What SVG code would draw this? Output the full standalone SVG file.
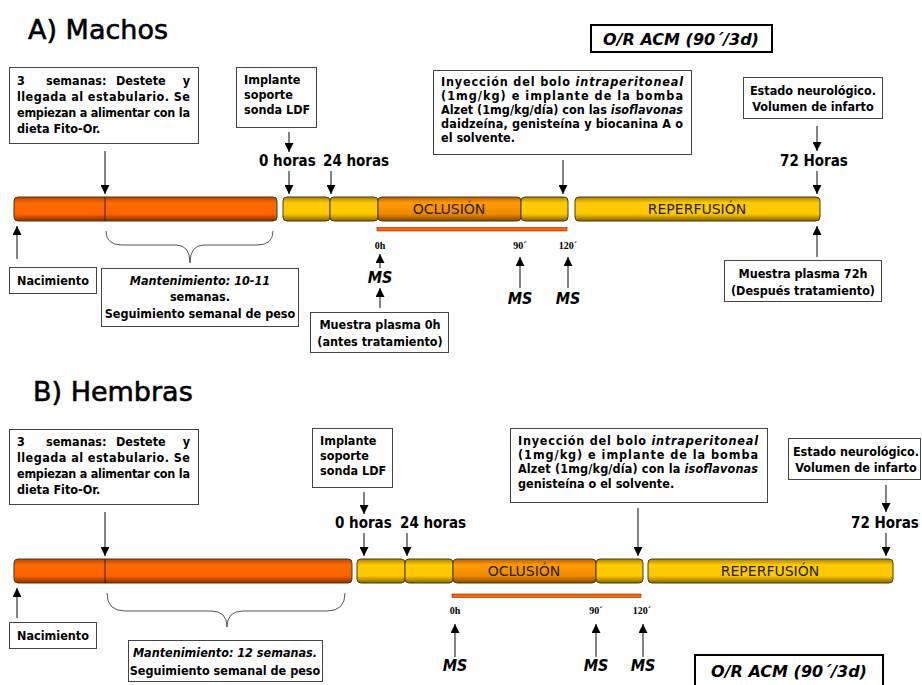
<svg xmlns="http://www.w3.org/2000/svg" width="922" height="685" viewBox="0 0 922 685">
<defs>
<linearGradient id="gOr" x1="0" y1="0" x2="0" y2="1"><stop offset="0" stop-color="#b84400"/><stop offset="0.25" stop-color="#ff6a00"/><stop offset="0.7" stop-color="#ff6400"/><stop offset="1" stop-color="#863000"/></linearGradient>
<linearGradient id="gYe" x1="0" y1="0" x2="0" y2="1"><stop offset="0" stop-color="#a88200"/><stop offset="0.25" stop-color="#ffcc00"/><stop offset="0.7" stop-color="#ffc800"/><stop offset="1" stop-color="#846600"/></linearGradient>
<linearGradient id="gOc" x1="0" y1="0" x2="0" y2="1"><stop offset="0" stop-color="#b86000"/><stop offset="0.25" stop-color="#ff9a00"/><stop offset="0.7" stop-color="#f08a00"/><stop offset="1" stop-color="#844800"/></linearGradient>
<marker id="ah" viewBox="0 0 10 10" refX="10" refY="5" markerWidth="10" markerHeight="9" markerUnits="userSpaceOnUse" orient="auto"><path d="M0,0 L10,5 L0,10 z" fill="#000"/></marker>
</defs>
<style>
.box{fill:#fff;stroke:#444;stroke-width:1}
.tbox{fill:#fff;stroke:#000;stroke-width:2}
.t{font-family:'Liberation Sans Narrow','DejaVu Sans Condensed','Liberation Sans',sans-serif;font-weight:bold;font-size:12.5px;fill:#000}
.tc{text-anchor:middle}
.te{text-anchor:end}
.title{font-family:'DejaVu Sans',sans-serif;font-size:27px;fill:#000;stroke:#000;stroke-width:0.6}
.hr{font-family:'Liberation Sans Narrow','DejaVu Sans Condensed','Liberation Sans',sans-serif;font-weight:bold;font-size:15px;fill:#000}
.sm{font-family:'Liberation Serif',serif;font-weight:bold;font-size:10px;fill:#000;text-anchor:middle}
.ms{font-family:'DejaVu Sans Condensed','DejaVu Sans',sans-serif;font-weight:bold;font-style:italic;font-size:16px;fill:#000;text-anchor:middle}
.bt{font-family:'DejaVu Sans',sans-serif;font-size:14px;fill:#222;text-anchor:middle}
.or{font-family:'DejaVu Sans',sans-serif;font-weight:bold;font-style:italic;font-size:16px;fill:#000;text-anchor:middle}
.bar{stroke:#4a3a10;stroke-width:1}
.ln{stroke:#333;stroke-width:1.2;fill:none}
.br{stroke:#555;stroke-width:1;fill:none}
.ol{fill:#ff6600;stroke:#7a3000;stroke-width:0.6}
</style>

<!-- ===== A) Machos ===== -->
<g id="titleA"><text class="title" x="28" y="39">A) Machos</text></g>
<g id="orA"><rect class="tbox" x="591" y="25" width="181" height="27"/><text class="or" x="681" y="45">O/R ACM (90´/3d)</text></g>
<g id="boxA1"><rect class="box" x="9.5" y="67.5" width="189" height="76"/>
<text class="t" x="17" y="85">3</text><text class="t" x="46" y="85">semanas:</text><text class="t" x="116" y="85">Destete</text><text class="t te" x="190" y="85">y</text>
<text class="t" x="17" y="101" textLength="173" lengthAdjust="spacing">llegada al estabulario. Se</text>
<text class="t" x="17" y="117" textLength="173" lengthAdjust="spacing">empiezan a alimentar con la</text>
<text class="t" x="17" y="133">dieta Fito-Or.</text></g>
<g id="boxA2"><rect class="box" x="236.5" y="67.5" width="80" height="60"/>
<text class="t" x="244" y="84">Implante</text><text class="t" x="244" y="99">soporte</text><text class="t" x="244" y="114">sonda LDF</text></g>
<g id="boxA3"><rect class="box" x="433.5" y="70.5" width="258" height="84"/>
<text class="t" x="441" y="86" textLength="242" lengthAdjust="spacing">Inyección del bolo <tspan font-style="italic">intraperitoneal</tspan></text>
<text class="t" x="441" y="100" textLength="242" lengthAdjust="spacing">(1mg/kg) e implante de la bomba</text>
<text class="t" x="441" y="114" textLength="242" lengthAdjust="spacing">Alzet (1mg/kg/día) con las <tspan font-style="italic">isoflavonas</tspan></text>
<text class="t" x="441" y="128" textLength="242" lengthAdjust="spacing">daidzeína, genisteína y biocanina A o</text>
<text class="t" x="441" y="142">el solvente.</text></g>
<g id="boxA4"><rect class="box" x="743.5" y="77.5" width="139" height="41"/>
<text class="t tc" x="813" y="95">Estado neurológico.</text><text class="t tc" x="813" y="111">Volumen de infarto</text></g>
<g id="lblA"><text class="hr" x="259" y="166">0 horas</text><text class="hr" x="323" y="166">24 horas</text><text class="hr" x="780" y="166">72 Horas</text></g>

<g id="barA">
<rect class="bar" x="14" y="197" width="263" height="24" rx="4" fill="url(#gOr)"/>
<line x1="105" y1="197" x2="105" y2="221" stroke="#3a1a00" stroke-width="1"/>
<rect class="bar" x="283" y="197" width="47" height="24" rx="4" fill="url(#gYe)"/>
<rect class="bar" x="330" y="197" width="48" height="24" rx="4" fill="url(#gYe)"/>
<rect class="bar" x="378" y="197" width="143" height="24" rx="4" fill="url(#gOc)"/>
<rect class="bar" x="521" y="197" width="47" height="24" rx="4" fill="url(#gYe)"/>
<rect class="bar" x="575" y="197" width="245" height="24" rx="4" fill="url(#gYe)"/>
<text class="bt" x="449" y="214">OCLUSIÓN</text>
<text class="bt" x="697" y="214">REPERFUSIÓN</text>
<rect class="ol" x="377" y="227.5" width="190" height="3.5"/>
</g>
<g id="timesA"><text class="sm" x="380" y="249">0h</text><text class="sm" x="520" y="249">90´</text><text class="sm" x="568" y="249">120´</text>
<text class="ms" x="380" y="283">MS</text><text class="ms" x="520" y="304">MS</text><text class="ms" x="568" y="304">MS</text></g>
<g id="nacA"><rect class="box" x="9.5" y="267.5" width="87" height="26"/><text class="t tc" x="53" y="285">Nacimiento</text></g>
<g id="manA"><rect class="box" x="101.5" y="268.5" width="197" height="58"/>
<text class="t tc" x="200" y="285" font-style="italic">Mantenimiento: 10-11</text>
<text class="t tc" x="200" y="301" font-size="10.5">semanas.</text>
<text class="t tc" x="200" y="318">Seguimiento semanal de peso</text></g>
<g id="mpA0"><rect class="box" x="310.5" y="312.5" width="138" height="40"/>
<text class="t tc" x="380" y="329">Muestra plasma 0h</text><text class="t tc" x="380" y="346">(antes tratamiento)</text></g>
<g id="mpA72"><rect class="box" x="724.5" y="260.5" width="157" height="41"/>
<text class="t tc" x="803" y="278">Muestra plasma 72h</text><text class="t tc" x="803" y="295">(Después tratamiento)</text></g>

<!-- ===== B) Hembras ===== -->
<g id="titleB"><text class="title" x="33" y="401">B) Hembras</text></g>
<g id="orB"><rect class="tbox" x="695" y="655" width="188" height="36"/><text class="or" x="789" y="677">O/R ACM (90´/3d)</text></g>
<g id="boxB1"><rect class="box" x="9.5" y="429.5" width="189" height="75"/>
<text class="t" x="17" y="446">3</text><text class="t" x="46" y="446">semanas:</text><text class="t" x="116" y="446">Destete</text><text class="t te" x="190" y="446">y</text>
<text class="t" x="17" y="462" textLength="173" lengthAdjust="spacing">llegada al estabulario. Se</text>
<text class="t" x="17" y="478" textLength="173" lengthAdjust="spacing">empiezan a alimentar con la</text>
<text class="t" x="17" y="494">dieta Fito-Or.</text></g>
<g id="boxB2"><rect class="box" x="312.5" y="428.5" width="80" height="59"/>
<text class="t" x="320" y="445">Implante</text><text class="t" x="320" y="460">soporte</text><text class="t" x="320" y="475">sonda LDF</text></g>
<g id="boxB3"><rect class="box" x="510.5" y="428.5" width="257" height="74"/>
<text class="t" x="518" y="445" textLength="240" lengthAdjust="spacing">Inyección del bolo <tspan font-style="italic">intraperitoneal</tspan></text>
<text class="t" x="518" y="459" textLength="240" lengthAdjust="spacing">(1mg/kg) e implante de la bomba</text>
<text class="t" x="518" y="473" textLength="240" lengthAdjust="spacing">Alzet (1mg/kg/día) con la <tspan font-style="italic">isoflavonas</tspan></text>
<text class="t" x="518" y="488">genisteína o el solvente.</text></g>
<g id="boxB4"><rect class="box" x="788.5" y="438.5" width="132" height="41"/>
<text class="t tc" x="856" y="456">Estado neurológico.</text><text class="t tc" x="856" y="472">Volumen de infarto</text></g>
<g id="lblB"><text class="hr" x="335" y="528">0 horas</text><text class="hr" x="400" y="528">24 horas</text><text class="hr" x="851" y="528">72 Horas</text></g>

<g id="barB">
<rect class="bar" x="14" y="559" width="338" height="24" rx="4" fill="url(#gOr)"/>
<line x1="105" y1="559" x2="105" y2="583" stroke="#3a1a00" stroke-width="1"/>
<rect class="bar" x="357" y="559" width="48" height="24" rx="4" fill="url(#gYe)"/>
<rect class="bar" x="405" y="559" width="48" height="24" rx="4" fill="url(#gYe)"/>
<rect class="bar" x="453" y="559" width="143" height="24" rx="4" fill="url(#gOc)"/>
<rect class="bar" x="596" y="559" width="47" height="24" rx="4" fill="url(#gYe)"/>
<rect class="bar" x="648" y="559" width="245" height="24" rx="4" fill="url(#gYe)"/>
<text class="bt" x="524" y="576">OCLUSIÓN</text>
<text class="bt" x="770" y="576">REPERFUSIÓN</text>
<rect class="ol" x="452" y="594" width="189" height="3.5"/>
</g>
<g id="timesB"><text class="sm" x="455" y="614">0h</text><text class="sm" x="596" y="614">90´</text><text class="sm" x="642" y="614">120´</text>
<text class="ms" x="455" y="671">MS</text><text class="ms" x="596" y="671">MS</text><text class="ms" x="643" y="671">MS</text></g>
<g id="nacB"><rect class="box" x="9.5" y="622.5" width="87" height="26"/><text class="t tc" x="53" y="640">Nacimiento</text></g>
<g id="manB"><rect class="box" x="128.5" y="640.5" width="194" height="41"/>
<text class="t tc" x="225" y="657" font-style="italic">Mantenimiento: 12 semanas.</text>
<text class="t tc" x="225" y="675">Seguimiento semanal de peso</text></g>

<!-- ===== connectors ===== -->
<g id="connectors">
<line class="ln" x1="105" y1="151" x2="105" y2="194" marker-end="url(#ah)"/>
<line class="ln" x1="289" y1="132" x2="289" y2="152" marker-end="url(#ah)"/>
<line class="ln" x1="289" y1="171" x2="289" y2="194" marker-end="url(#ah)"/>
<line class="ln" x1="331" y1="171" x2="331" y2="194" marker-end="url(#ah)"/>
<line class="ln" x1="563" y1="160" x2="563" y2="194" marker-end="url(#ah)"/>
<line class="ln" x1="817" y1="126" x2="817" y2="151" marker-end="url(#ah)"/>
<line class="ln" x1="817" y1="171" x2="817" y2="194" marker-end="url(#ah)"/>
<line class="ln" x1="17" y1="259" x2="17" y2="226" marker-end="url(#ah)"/>
<path class="br" d="M106,231 Q106,245 122,245 L176,245 Q190,245 190,263 Q190,245 204,245 L257,245 Q273,245 273,231"/>
<line class="ln" x1="380" y1="268" x2="380" y2="254" marker-end="url(#ah)"/>
<line class="ln" x1="380" y1="308" x2="380" y2="288" marker-end="url(#ah)"/>
<line class="ln" x1="520" y1="288" x2="520" y2="257" marker-end="url(#ah)"/>
<line class="ln" x1="568" y1="288" x2="568" y2="257" marker-end="url(#ah)"/>
<line class="ln" x1="817" y1="257" x2="817" y2="226" marker-end="url(#ah)"/>

<line class="ln" x1="105" y1="512" x2="105" y2="556" marker-end="url(#ah)"/>
<line class="ln" x1="364" y1="492" x2="364" y2="514" marker-end="url(#ah)"/>
<line class="ln" x1="364" y1="533" x2="364" y2="556" marker-end="url(#ah)"/>
<line class="ln" x1="407" y1="533" x2="407" y2="556" marker-end="url(#ah)"/>
<line class="ln" x1="638" y1="508" x2="638" y2="556" marker-end="url(#ah)"/>
<line class="ln" x1="886" y1="485" x2="886" y2="512" marker-end="url(#ah)"/>
<line class="ln" x1="886" y1="533" x2="886" y2="556" marker-end="url(#ah)"/>
<line class="ln" x1="17" y1="618" x2="17" y2="588" marker-end="url(#ah)"/>
<path class="br" d="M107,593 Q107,611 125,611 L211,611 Q227,611 227,627 Q227,611 243,611 L327,611 Q345,611 345,593"/>
<line class="ln" x1="455" y1="657" x2="455" y2="624" marker-end="url(#ah)"/>
<line class="ln" x1="596" y1="657" x2="596" y2="624" marker-end="url(#ah)"/>
<line class="ln" x1="643" y1="657" x2="643" y2="624" marker-end="url(#ah)"/>
</g>
</svg>
